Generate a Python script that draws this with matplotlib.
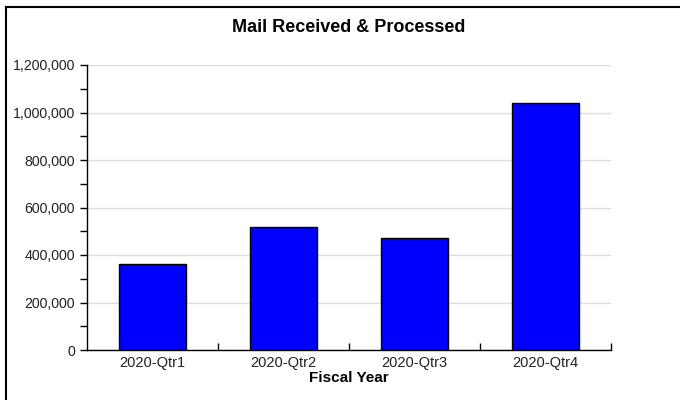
import matplotlib
matplotlib.use('Agg')
import matplotlib.pyplot as plt
from matplotlib.lines import Line2D
from matplotlib.ticker import MultipleLocator, FuncFormatter, FixedLocator

# Datos del gráfico
quarters = ['2020-Qtr1', '2020-Qtr2', '2020-Qtr3', '2020-Qtr4']
mail_counts = [362000, 519000, 470000, 1039000]

plt.rcParams['font.family'] = ['Liberation Sans', 'DejaVu Sans']

fig = plt.figure(figsize=(6.8, 4.0), dpi=100)
ax = fig.add_axes([0.128, 0.125, 0.8985 - 0.128, 0.8375 - 0.125])

x = list(range(len(quarters)))
ax.bar(x, mail_counts, width=0.51, color='#0000ff', edgecolor='black',
       linewidth=1.0, zorder=3)

ax.set_xlim(-0.5, len(quarters) - 0.5)
ax.set_ylim(0, 1200000)

# Eje Y
ax.yaxis.set_major_locator(MultipleLocator(200000))
ax.yaxis.set_minor_locator(MultipleLocator(100000))
ax.yaxis.set_major_formatter(FuncFormatter(lambda v, p: f'{int(v):,}'))
ax.grid(True, axis='y', which='major', color='#dcdcdc', linewidth=1.0,
        zorder=0)
ax.tick_params(axis='y', which='both', direction='out', length=5,
               width=1, labelsize=10.2, labelcolor='#222222')

# Eje X
ax.set_xticks(x)
ax.set_xticklabels(quarters)
ax.xaxis.set_minor_locator(FixedLocator([i + 0.5 for i in x]))
ax.tick_params(axis='x', which='major', length=0, labelsize=10.5,
               labelcolor='#222222', pad=4)
ax.tick_params(axis='x', which='minor', direction='in', length=5, width=1)

for s in ['top', 'right']:
    ax.spines[s].set_visible(False)
for s in ['left', 'bottom']:
    ax.spines[s].set_linewidth(1.0)

ax.set_xlabel('Fiscal Year', fontsize=11, fontweight='bold', labelpad=1)
fig.text(0.513, 0.932, 'Mail Received & Processed', ha='center',
         va='center', fontsize=13, fontweight='bold')

# Borde superior e izquierdo
fig.add_artist(Line2D([6 / 680, 1], [1 - 7 / 400, 1 - 7 / 400],
                      color='black', linewidth=1.5))
fig.add_artist(Line2D([6 / 680, 6 / 680], [0, 1 - 7 / 400],
                      color='black', linewidth=1.5))

fig.savefig('out.png', dpi=100)
